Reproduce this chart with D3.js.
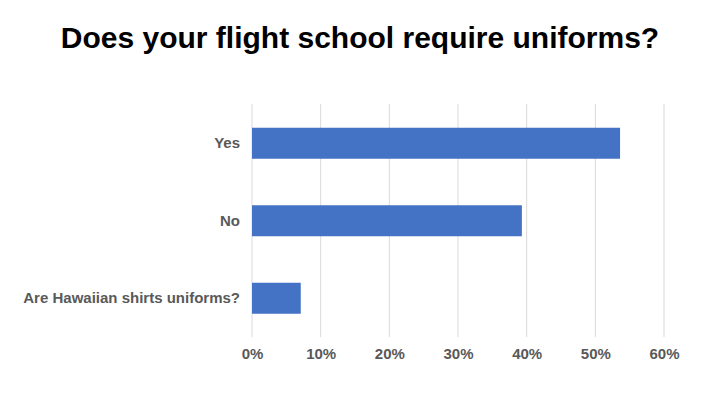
<!DOCTYPE html>
<html><head><meta charset="utf-8">
<script src="https://cdn.jsdelivr.net/npm/d3@7"></script>
<style>body{margin:0;background:#fff;}svg{display:block;font-family:"Liberation Sans",Arial,Helvetica,sans-serif;}</style>
</head><body>
<svg id="chart" width="720" height="405"></svg>
<script>
const categories = ["Yes", "No", "Are Hawaiian shirts uniforms?"];
const values = [0.536, 0.393, 0.071];
const ticks = [0, 0.1, 0.2, 0.3, 0.4, 0.5, 0.6];
const title = "Does your flight school require uniforms?";

const svg = d3.select("#chart");
const x = d3.scaleLinear().domain([0, 0.6]).range([252, 664]);
const y = d3.scaleBand().domain(categories).range([104.5, 337]).paddingInner(0.6).paddingOuter(0.3);

svg.append("text").attr("x", 360).attr("y", 48).attr("text-anchor", "middle")
  .attr("font-size", 30).attr("font-weight", "bold").attr("fill", "#000").text(title);

const grid = svg.append("g");
grid.selectAll("line").data(ticks).join("line")
  .attr("x1", d => x(d)).attr("x2", d => x(d))
  .attr("y1", 104).attr("y2", 337)
  .attr("stroke", "#d9d9d9").attr("stroke-width", 1);

svg.append("g").selectAll("rect").data(categories).join("rect")
  .attr("x", x(0)).attr("y", d => y(d))
  .attr("width", (d, i) => x(values[i]) - x(0))
  .attr("height", y.bandwidth())
  .attr("fill", "#4472c4");

const xAxis = d3.axisBottom(x).tickValues(ticks).tickFormat(d3.format(".0%")).tickSize(0).tickPadding(0);
const xa = svg.append("g").attr("transform", "translate(0,359)").call(xAxis);
xa.select(".domain").remove();
xa.selectAll("text").attr("font-size", 15).attr("font-weight", "bold").attr("fill", "#595959")
  .attr("font-family", "Liberation Sans, Arial, sans-serif").attr("dy", 0);

const yAxis = d3.axisLeft(y).tickSize(0).tickPadding(0);
const ya = svg.append("g").attr("transform", "translate(240,0)").call(yAxis);
ya.select(".domain").remove();
ya.selectAll("text").attr("font-size", 15).attr("font-weight", "bold").attr("fill", "#595959")
  .attr("font-family", "Liberation Sans, Arial, sans-serif");
</script>
</body></html>
